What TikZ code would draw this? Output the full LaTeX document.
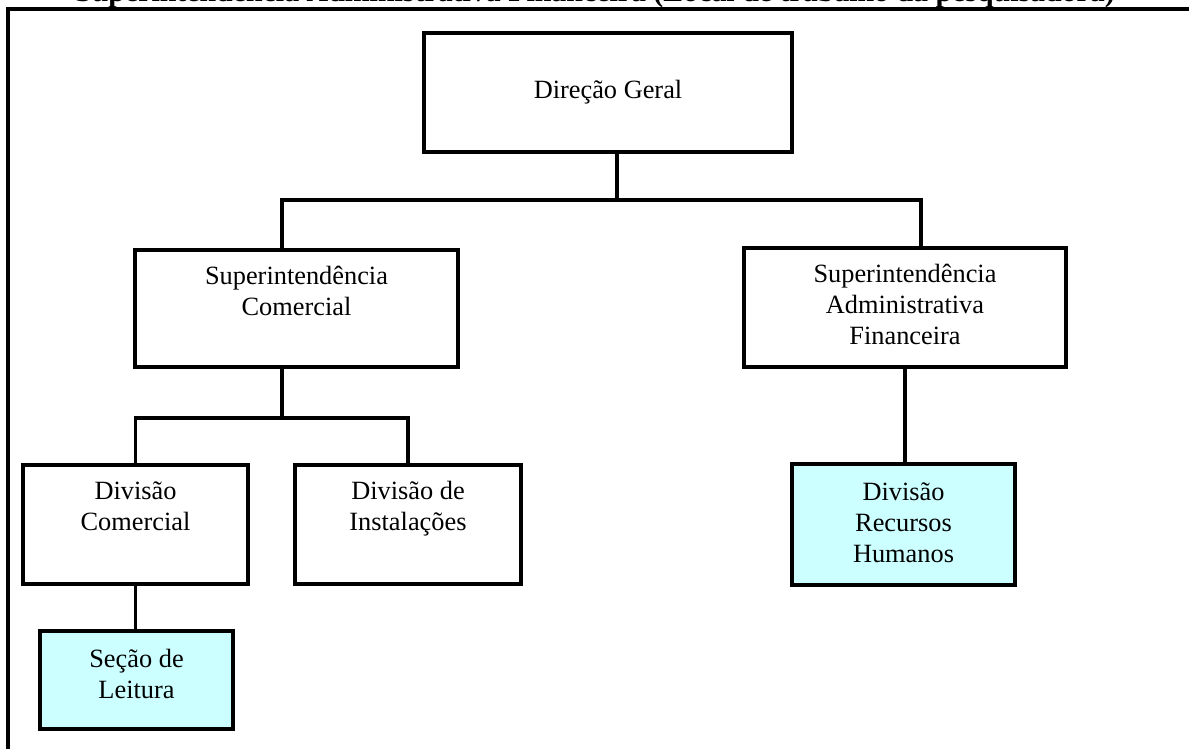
\documentclass[tikz,border=0pt]{standalone}
\usepackage{fontspec}
\setmainfont{Liberation Serif}
\usetikzlibrary{positioning}
\definecolor{cianoclaro}{HTML}{CCFFFF}

\begin{document}
\begin{tikzpicture}[x=0.02cm, y=-0.02cm,
	caixa/.style = {draw, line width=2.1pt, fill=white, inner sep=0pt},
	azul/.style = {caixa, fill=cianoclaro},
	rotulo/.style = {align=center, inner sep=0pt, font=\fontsize{15}{17.4}\selectfont},
	conector/.style = {line width=2.1pt}]
	
	\clip (0,0) rectangle (1189,749);
	
	% titulo (cortado no topo) e moldura
	\node[font=\fontsize{17}{20}\selectfont\bfseries, anchor=base] (titulo) at (595,2) {Superintendência Administrativa Financeira (Local de trabalho da pesquisadora)};
	\draw[line width=2.1pt] (8,760) -- (8,9) -- (1200,9);
	
	% caixas
	\node[caixa, rotulo, minimum width=7.36cm, minimum height=2.38cm] (dg) at (608,92.5) {Direção Geral};
	
	\node[caixa, minimum width=6.46cm, minimum height=2.34cm] (sc) at (296.5,308.5) {};
	\node[rotulo, below=0.3cm of sc.north] (scT) {\strut Superintendência\\Comercial};
	
	\node[caixa, minimum width=6.44cm, minimum height=2.38cm] (saf) at (905,307.5) {};
	\node[rotulo, below=0.3cm of saf.north] (safT) {\strut Superintendência\\Administrativa\\Financeira};
	
	\node[caixa, minimum width=4.5cm, minimum height=2.38cm] (dc) at (135.5,524.5) {};
	\node[rotulo, below=0.3cm of dc.north] (dcT) {\strut Divisão\\Comercial};
	
	\node[caixa, minimum width=4.52cm, minimum height=2.38cm] (di) at (408,524.5) {};
	\node[rotulo, below=0.3cm of di.north] (diT) {\strut Divisão de\\Instalações};
	
	\node[azul, minimum width=4.46cm, minimum height=2.42cm] (drh) at (903.5,524.5) {};
	\node[rotulo, below=0.34cm of drh.north] (drhT) {\strut Divisão\\Recursos\\Humanos};
	
	\node[azul, minimum width=3.86cm, minimum height=1.96cm] (sl) at (136.5,680) {};
	\node[rotulo, below=0.34cm of sl.north] (slT) {\strut Seção de\\Leitura};
	
	% ligacoes
	\coordinate (dgP) at (617,200);
	\coordinate (scP) at (282,200);
	\coordinate (safP) at (921,200);
	\coordinate (scQ) at (282,418);
	\draw[conector] (dg.south -| dgP) -- (dgP);
	\draw[conector] (sc.north -| scP) -- (scP) -- (safP) -- (saf.north -| safP);
	\draw[conector] (sc.south -| scQ) -- (scQ);
	\draw[conector] (dc.north) -- (dc.north |- scQ) -- (di.north |- scQ) -- (di.north);
	\draw[conector] (dc.south) -- (dc.south |- sl.north);
	\draw[conector] (saf.south) -- (saf.south |- drh.north);
\end{tikzpicture}
\end{document}
